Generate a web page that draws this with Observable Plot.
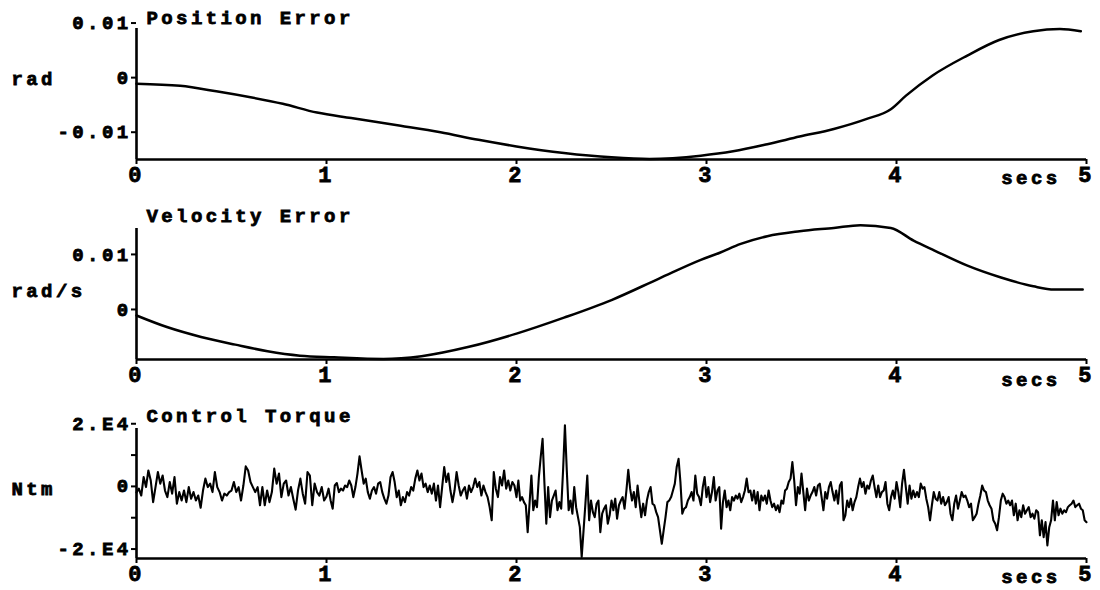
<!DOCTYPE html>
<html><head><meta charset="utf-8">
<script src="https://cdn.jsdelivr.net/npm/d3@7"></script>
<script src="https://cdn.jsdelivr.net/npm/@observablehq/plot@0.6"></script>
<style>
body{margin:0;background:#fff;}
#chart{width:1100px;height:590px;overflow:hidden;}
#chart svg{display:block;}
#chart svg text{letter-spacing:3.4px;font-weight:bold;stroke:#000;stroke-width:0.8px;}
</style></head><body><div id="chart"></div>
<script>
// ---- data ----
const timeTicks = [0, 1, 2, 3, 4, 5];

const positionT = [0, 0.23, 0.42, 0.6, 0.77, 0.95, 1.13, 1.39, 1.6, 1.8, 2.0, 2.25, 2.5, 2.7, 2.97, 3.14, 3.32, 3.49, 3.67, 3.84, 3.97, 4.05, 4.19, 4.37, 4.54, 4.72, 4.86, 4.97];
const positionV = [0, -0.0004, -0.0014, -0.0025, -0.0037, -0.0053, -0.0063, -0.0077, -0.0089, -0.0103, -0.0115, -0.0127, -0.0135, -0.0138, -0.0132, -0.0124, -0.0111, -0.0097, -0.0083, -0.0065, -0.0047, -0.0022, 0.0015, 0.0051, 0.008, 0.0096, 0.01, 0.0096];
const positionTicks = [-0.01, 0, 0.01];
const positionTickLabels = ["-0.01", "0", "0.01"];

const velocityT = [0, 0.16, 0.34, 0.52, 0.69, 0.86, 1.04, 1.3, 1.5, 1.75, 2.0, 2.25, 2.5, 2.75, 2.97, 3.07, 3.18, 3.32, 3.49, 3.67, 3.81, 3.97, 4.09, 4.2, 4.37, 4.55, 4.72, 4.83, 4.98];
const velocityV = [0, -0.0021, -0.0039, -0.0053, -0.0065, -0.0073, -0.0076, -0.0079, -0.0074, -0.0057, -0.0033, -0.0004, 0.0028, 0.0067, 0.0101, 0.0114, 0.013, 0.0144, 0.0153, 0.0159, 0.0164, 0.0159, 0.0136, 0.0118, 0.0091, 0.0069, 0.0053, 0.0047, 0.0047];
const velocityTicks = [0, 0.01];
const velocityTickLabels = ["0", "0.01"];

// control torque, thousands of N·m, one array per second of the record
const torque0to1 = [0,1.2,-1,4.9,1.7,7,3.8,-3.1,1.7,6.5,2.8,5.4,0.6,-1.5,3.3,-0.4,4.9,-3.6,0.1,-2.6,0.6,-3.1,1.7,-2,0.1,-2.6,-1,-4.9,0.6,4.4,1.7,2.8,0.1,6.5,1.7,0.1,-2.6,-0.4,-1,0.1,0.6,3.3,0.1,1.7,-2.6,2.2,8.3,7,3.3,1.7,0.1,1.7,-4.1,1.7,-4.1,0.6,-3.1,0.1,7.6,2.8,6,-1.5,2.8,3.8,-1,1.7,-2,-5.5,0.6,4.4,-0.4,-3.6,6.5,5.4,-4.1,2.8,0.1,-1,1.7,-2.6,-1.3];
const torque1to2 = [-1.3,1.2,-2.6,-5.2,2.2,3,0.1,1.2,0.6,2.2,1.7,3.8,2.2,-1.5,1.7,6,11.5,7,2.8,4.4,0.1,-2,0.6,1.7,-0.4,2.8,3.3,0.1,-2,-3.6,-1,4.9,6.5,3.3,-1.5,0.6,-4.1,-1.5,-3.1,0.1,-1,1.7,0.6,4.4,7,3.8,6,1.7,2.8,0.1,2.2,-0.4,2.8,-2.6,2.2,-4.7,1.7,8.1,3.3,6,0.6,-3.1,0.6,6.5,2.2,-1,0.6,1.7,-2,2.2,0.1,1.7,4.4,1.7,3.3,-1,2.2,0.1,-1.5,-4.7,-8.9,6.5,1.2,-1.5,4.9,2.2,7,1.2,3.8,0.6,3.3,2.2,-1.5];
const torque2to3 = [-1.5,3.8,-2.6,-1.5,-3.1,-4.1,-12.7,-3.6,5.4,-5.7,-2.6,-4.7,4.9,11.3,17.1,2.8,-10,1.7,-7.9,-2.6,-1,0.6,-5.7,-3.1,-5.2,7,21.4,7,-5.7,-2.6,-6.8,1.7,-4.7,-7.9,-11.1,-20.6,-12.1,-3.6,5.4,-8.9,-2.6,-6.3,-7.9,-3.6,-2.6,-12.7,-6.8,-5.2,-4.1,-10,-7.3,-2.6,-5.7,-2,-8.4,-4.1,-2.6,-1.5,-5.2,0.6,7.2,1.2,-2.6,0.1,-4.7,2.2,-3.1,-7.9,-3.6,-7.3,-2.6,0.1,1.7,-3.6,-4.1,-6.3,-7.9,-12.1,-16.4,-12.1,-7.9,-3.1,-2.6,-1.5,0.6,2.8,8.1,10.7,3.3,-6.8,-5.2,-4.7,-2.6,-1.5,0.1,-2.6,5.4,-0.4,-1.5,-4.1,1.7,4.9,-1.5];
const torque3to4 = [-1.5,1.7,-3.1,0.1,4.9,-2.6,0.6,1.7,-11.6,-3.1,0.6,-4.7,-2.6,-5.7,-1.5,-2.6,-1,-2,-0.4,-3.1,-1.5,0.6,4.4,0.1,0.6,-2.6,0.6,-3.6,0.1,-5.7,-1,-2.6,-1,-3.6,0.6,-2.6,-4.7,-3.6,-5.7,-4.1,-6.3,-2.6,-3.6,0.6,1.2,3.3,4.4,9.7,3.8,-4.1,1.7,-0.4,6,0.1,-5.7,1.2,-2.6,-1,0.1,1.7,-1,2.2,2.8,-1.5,-5.7,0.1,-2,1.7,3.3,0.1,-2.6,0.6,-3.6,2.2,3.3,-8.9,-7.3,-2.6,-4.7,-2,-5.7,-3.1,-1.5,1.7,4.4,1.7,3.3,-0.4,2.2,1.2,3.8,5.4,1.7,-1.5,2.2,-1.5,0.1,0.6,3.3,-3.6,-5.7,-1.5,0.6,-2,3.3];
const torque4to5 = [3.3,0.1,-4.7,2.8,7.2,1.7,-3.6,2.2,-2,0.6,-1.5,0.1,-1.5,2.8,1.2,1.7,-2,-4.7,-8.9,-4.1,0.1,-2,-2.6,0.1,-3.6,-1.5,-4.1,-3.1,-1.5,-6.8,-8.9,-3.6,-1,-5.2,-2.6,0.1,-1.5,-1,-2.6,-4.7,-3.6,-8.9,-7.9,-6.8,-3.6,-1,2.2,0.6,0.1,-2.6,-4.1,-5.2,-8.9,-10,-12.1,-7.9,-2.6,-0.4,-1.5,-3.6,-2.6,-4.1,-2.6,-7.3,-3.6,-8.9,-5.7,-7.9,-4.1,-6.8,-5.7,-4.7,-7.9,-6.8,-8.4,-5.7,-6.3,-13.7,-8.9,-14.3,-9.5,-16.9,-11.1,-8.9,-2.6,-8.9,-3.1,-7.3,-5.2,-6.8,-5.7,-6.3,-4.7,-4.1,-3.6,-2.6,-4.7,-4.1,-3.6,-5.2,-5.7,-8.9,-9.5];
const torqueTicks = [-20000, -10000, 0, 10000, 20000];
const torqueTickLabels = ["-2.E4", "", "0", "", "2.E4"];

const titles = ["Position Error", "Velocity Error", "Control Torque"];
const units = ["rad", "rad/s", "Ntm"];
const timeUnit = "secs";

// ---- build tables ----
const positionData = positionT.map((t, i) => ({t, v: positionV[i]}));
const velocityData = velocityT.map((t, i) => ({t, v: velocityV[i]}));
const torqueData = [torque0to1, torque1to2, torque2to3, torque3to4, torque4to5]
  .flatMap((arr, k) => arr.map((v, i) => ({t: k + i / (arr.length - 1), v: v * 1000})));

const FONT = "'Liberation Mono', 'DejaVu Sans Mono', monospace";

function panel(o) {
  const fmt = d => { const i = o.ticks.indexOf(d); return i >= 0 ? o.labels[i] : ""; };
  return Plot.plot({
    width: 1100, height: o.height,
    marginLeft: 136, marginRight: 14, marginTop: o.mt, marginBottom: o.mb,
    style: {fontFamily: FONT, fontWeight: "bold", color: "#000", background: "#fff", overflow: "visible"},
    x: {domain: [0, 5], axis: null},
    y: {domain: o.yDomain, axis: null},
    marks: [
      Plot.ruleY([o.yDomain[0]], {stroke: "#000", strokeWidth: 2.6}),
      Plot.ruleX([0], {stroke: "#000", strokeWidth: 2.6}),
      Plot.axisX(timeTicks, {label: null, tickSize: 5, tickPadding: 2, fontSize: 22, tickFormat: d => String(d), strokeWidth: 2}),
      Plot.axisY(o.ticks, {label: null, tickSize: 5, tickPadding: 0, fontSize: 19, tickFormat: fmt, dy: -6, strokeWidth: 2}),
      Plot.line(o.data, {x: "t", y: "v", stroke: "#000", strokeWidth: o.sw, curve: o.curve}),
      Plot.text([o.title], {text: d => d, frameAnchor: "top-left", textAnchor: "start", lineAnchor: "middle", dx: 10, dy: o.titleDy, fontSize: 19}),
      Plot.text([o.unit], {text: d => d, frameAnchor: "top-left", textAnchor: "start", lineAnchor: "middle", dx: -125, dy: o.unitDy, fontSize: 19}),
      Plot.text([timeUnit], {text: d => d, frameAnchor: "bottom-right", textAnchor: "end", lineAnchor: "middle", dx: -26, dy: o.secsDy, fontSize: 19})
    ]
  });
}

const chart = document.getElementById("chart");
chart.append(panel({
  data: positionData, yDomain: [-0.0139, 0.0101], ticks: positionTicks, labels: positionTickLabels,
  title: titles[0], unit: units[0], height: 195, mt: 28, mb: 36, titleDy: -11, unitDy: 50, secsDy: 18,
  sw: 2.5, curve: "monotone-x"
}));
chart.append(panel({
  data: velocityData, yDomain: [-0.008, 0.0158], ticks: velocityTicks, labels: velocityTickLabels,
  title: titles[1], unit: units[1], height: 195, mt: 33, mb: 31, titleDy: -13, unitDy: 62, secsDy: 20,
  sw: 2.5, curve: "monotone-x"
}));
chart.append(panel({
  data: torqueData, yDomain: [-21100, 20400], ticks: torqueTicks, labels: torqueTickLabels,
  title: titles[2], unit: units[2], height: 200, mt: 38, mb: 32, titleDy: -13, unitDy: 60, secsDy: 18,
  sw: 2.1, curve: "linear"
}));
</script></body></html>
